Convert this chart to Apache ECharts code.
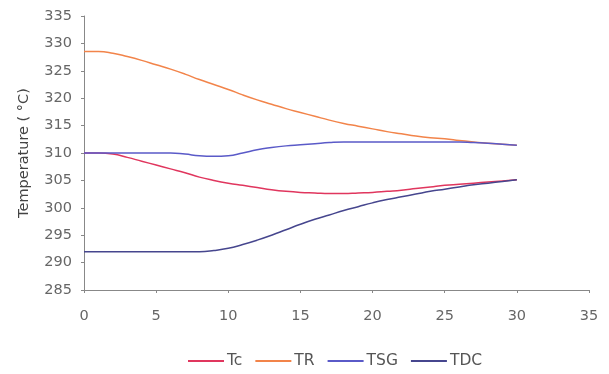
<!DOCTYPE html>
<html><head><meta charset="utf-8">
<script src="https://cdn.jsdelivr.net/npm/echarts@6/dist/echarts.min.js"></script>
<style>html,body{margin:0;padding:0;background:#fff}#c{width:609px;height:374px}</style>
</head><body><div id="c"></div>
<script>
const time = [0,1,2,3,4,5,6,7,8,9,10,11,12,13,14,15,16,17,18,19,20,21,22,23,24,25,26,27,28,29,30];
const Tc  = [310,310,309.8,309.2,308.5,307.8,307.1,306.4,305.6,305.0,304.5,304.1,303.7,303.3,303.0,302.8,302.7,302.6,302.6,302.7,302.8,303.0,303.2,303.5,303.8,304.1,304.3,304.5,304.7,304.9,305.1];
const TR  = [328.5,328.5,328.2,327.6,326.9,326.1,325.3,324.4,323.4,322.5,321.6,320.6,319.7,318.9,318.1,317.4,316.7,316.0,315.4,314.9,314.4,313.9,313.5,313.1,312.8,312.6,312.3,312.0,311.8,311.6,311.4];
const TSG = [310,310,310,310,310,310,310,309.8,309.5,309.4,309.5,310.0,310.6,311.0,311.3,311.5,311.7,311.9,312.0,312.0,312.0,312.0,312.0,312.0,312.0,312.0,312.0,311.9,311.8,311.6,311.4];
const TDC = [292,292,292,292,292,292,292,292,292,292.2,292.6,293.3,294.1,295.0,296.0,297.0,297.9,298.7,299.5,300.2,300.9,301.5,302.0,302.5,303.0,303.4,303.8,304.2,304.5,304.8,305.1];
const seriesNames = ['Tc','TR','TSG','TDC'];
const seriesData = [Tc, TR, TSG, TDC];
const colors = ['#e0365e','#f2844a','#5a5ac8','#46468e'];
const chart = echarts.init(document.getElementById('c'));
const font = 'DejaVu Sans, Liberation Sans, sans-serif';
chart.setOption({
  animation:false,
  backgroundColor:'#fff',
  grid:{left:84,right:20,top:16,bottom:84},
  legend:{bottom:0,left:183,itemWidth:36,itemHeight:2,itemGap:13,icon:'rect',
    textStyle:{color:'#555',fontSize:15.5,fontFamily:font,padding:[0,0,0,-2]},
    data:seriesNames},
  xAxis:{type:'value',min:0,max:35,interval:5,
    axisLine:{lineStyle:{color:'#888'}},
    axisTick:{show:true,length:3,lineStyle:{color:'#888'}},
    splitLine:{show:false},
    axisLabel:{color:'#666',fontSize:14.5,fontFamily:font,margin:19}},
  yAxis:{type:'value',min:285,max:335,interval:5,name:'Temperature ( °C)',nameLocation:'middle',nameGap:52,
    nameTextStyle:{color:'#444',fontSize:14.5,fontFamily:font},
    axisLine:{show:true,lineStyle:{color:'#888'}},
    axisTick:{show:true,length:3,lineStyle:{color:'#888'}},
    splitLine:{show:false},
    axisLabel:{color:'#666',fontSize:14.5,fontFamily:font,margin:12}},
  series: seriesNames.map((n,i)=>({name:n,type:'line',showSymbol:false,smooth:true,
    lineStyle:{width:1.5,color:colors[i]},itemStyle:{color:colors[i]},
    data: time.map((t,j)=>[t,seriesData[i][j]])}))
});
</script></body></html>
